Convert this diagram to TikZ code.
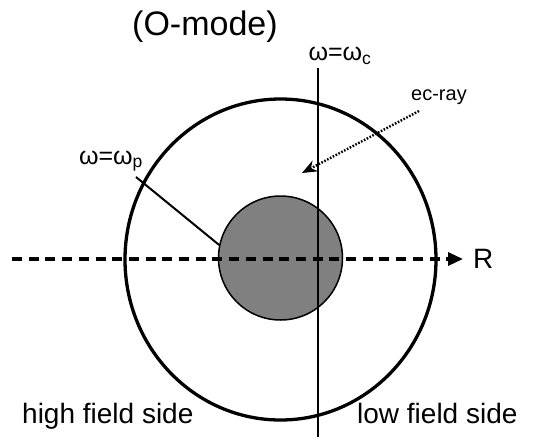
\documentclass[tikz,border=0pt]{standalone}
\usepackage{fontspec}
\setmainfont{Liberation Sans}
\usetikzlibrary{arrows.meta,shapes.geometric}
\begin{document}
\begin{tikzpicture}[x=1pt,y=-1pt,
  lbl/.style={inner sep=0pt, font=\fontsize{28}{30}\selectfont},
  wlbl/.style={inner sep=0pt, font=\fontsize{25}{27}\selectfont},
]
\useasboundingbox (0,0) rectangle (539,440);
% outer boundary
\node[draw, line width=3.3pt, ellipse, minimum width=311pt, minimum height=321pt, inner sep=0pt] (outer) at (280.5,259.5) {};
% plasma core
\node[draw, line width=1.5pt, fill=black!50, circle, minimum size=124pt, inner sep=0pt] (core) at (280.5,258) {};
% dashed R axis
\coordinate (rstart) at (12,259);
\coordinate (rend) at (463,259);
\draw[line width=3.3pt, dash pattern=on 10pt off 6.7pt, -{Triangle[length=15pt,width=13pt]}] (rstart) -- (rend);
\node[lbl, anchor=west] (R) at (473,259) {R};
% cyclotron resonance line
\coordinate (ctop) at (318,68);
\coordinate (cbot) at (318,437);
\draw[line width=2.8pt] (ctop) -- (cbot);
\node[wlbl, anchor=south] (wc) at (340,65) {ω=ω\textsubscript{c}};
% plasma cutoff label
\node[wlbl] (wp) at (111,161) {ω=ω\textsubscript{p}};
\coordinate (wpend) at (136,177);
\draw[line width=2pt] (wpend) -- (core.168);
% ec-ray
\coordinate (raystart) at (419,111);
\coordinate (rayend) at (302,173);
\draw[line width=2.4pt, dash pattern=on 1.6pt off 1.6pt, -{Stealth[length=15pt,width=12pt]}] (raystart) -- (rayend);
\node[inner sep=0pt, font=\fontsize{20}{22}\selectfont, anchor=west] (ec) at (411,97) {ec-ray};
% titles
\node[inner sep=0pt, font=\fontsize{34}{36}\selectfont, anchor=west] (title) at (132,27) {(O-mode)};
\node[lbl, anchor=base west] (hfs) at (22,423) {high field side};
\node[lbl, anchor=base west] (lfs) at (357,423) {low field side};
\end{tikzpicture}
\end{document}
